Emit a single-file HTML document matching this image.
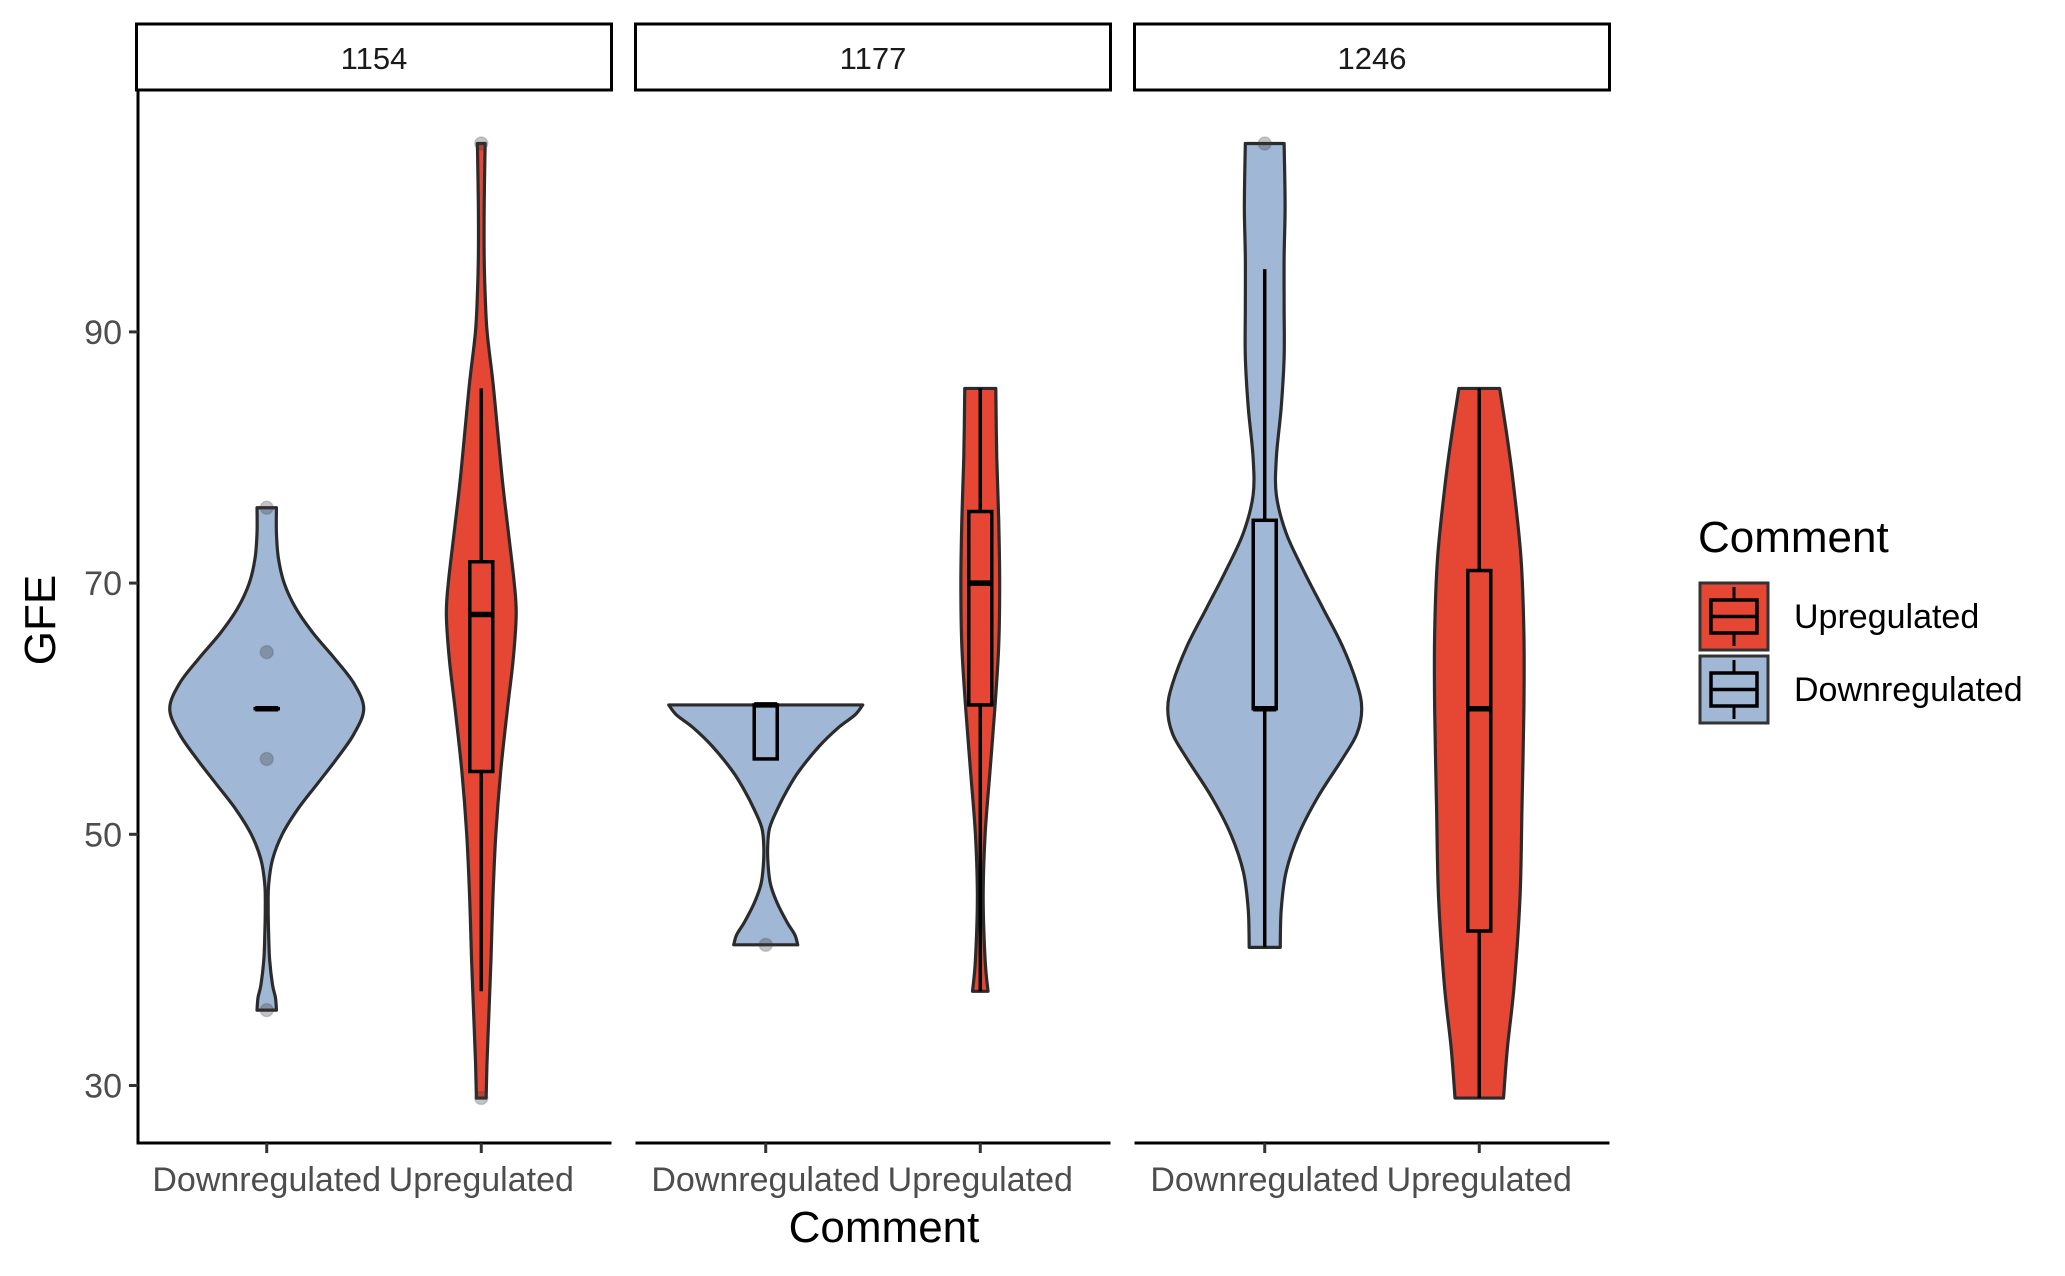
<!DOCTYPE html>
<html><head><meta charset="utf-8"><style>
body{margin:0;background:#fff}
svg{display:block;font-family:"Liberation Sans",Arial,sans-serif}
</style></head><body>
<svg id="chart" width="2065" height="1276" viewBox="0 0 2065 1276"></svg>
<script>
const panels = ["1154","1177","1246"];
const categories = ["Downregulated","Upregulated"];
const yTicks = [30,50,70,90];
// density profiles: [value, relative half width]
const profile1154Down = [[36,0.1],[37,0.09],[38,0.06],[40,0.03],[42,0.02],[44,0.015],[46,0.02],[48,0.06],[50,0.16],[52,0.32],[54,0.52],[56,0.72],[58,0.9],[60,1.0],[62,0.9],[64,0.7],[66,0.48],[68,0.3],[70,0.18],[72,0.12],[74,0.1],[76,0.1]];
const profile1154Up = [[29,0.05],[32,0.06],[36,0.08],[40,0.1],[45,0.12],[50,0.15],[55,0.2],[60,0.27],[64,0.33],[67.5,0.36],[70,0.34],[74,0.28],[78,0.22],[82,0.17],[86,0.12],[90,0.06],[93,0.04],[96,0.03],[100,0.03],[105,0.04]];
const profile1177Down = [[41.2,0.33],[42,0.3],[43,0.22],[44.5,0.12],[46,0.05],[47.5,0.025],[49,0.02],[50.5,0.04],[52,0.12],[53.5,0.22],[55,0.34],[57,0.55],[58.5,0.75],[59.5,0.92],[60.3,1.0]];
const profile1177Up = [[37.5,0.08],[40,0.05],[45,0.03],[50,0.05],[55,0.1],[60,0.15],[65,0.19],[70,0.2],[75,0.19],[80,0.17],[85.5,0.16]];
const profile1246Down = [[41,0.16],[44,0.17],[47,0.22],[50,0.35],[53,0.55],[56,0.8],[58,0.95],[60,1.0],[62,0.95],[65,0.8],[68,0.6],[71,0.4],[74,0.22],[77,0.12],[80,0.12],[84,0.17],[88,0.2],[92,0.2],[96,0.2],[100,0.21],[105,0.2]];
const profile1246Up = [[29,0.25],[33,0.29],[38,0.36],[45,0.42],[52,0.44],[60,0.46],[66,0.46],[72,0.43],[78,0.35],[82,0.28],[85.5,0.21]];
// boxes: [lowWhisker, q1, median, q3, highWhisker]
const box1154Down = [60,60,60,60,60];
const box1154Up = [37.5,55,67.5,71.7,85.5];
const box1177Down = [56,56,60.3,60.3,60.3];
const box1177Up = [37.5,60.3,70,75.7,85.5];
const box1246Down = [41,60,60,75,95];
const box1246Up = [29,42.3,60,71,85.5];
// outlier / jitter points
const points1154Down = [76,64.5,56,36];
const points1154Up = [105,29];
const points1177Down = [41.2];
const points1177Up = [];
const points1246Down = [105];
const points1246Up = [];

const profiles=[[profile1154Down,profile1154Up],[profile1177Down,profile1177Up],[profile1246Down,profile1246Up]];
const boxes=[[box1154Down,box1154Up],[box1177Down,box1177Up],[box1246Down,box1246Up]];
const pts=[[points1154Down,points1154Up],[points1177Down,points1177Up],[points1246Down,points1246Up]];
const fills=["#A1B7D6","#E64734"];

const svg=document.getElementById('chart');
const NS="http://www.w3.org/2000/svg";
function mk(t,a,p){const e=document.createElementNS(NS,t);for(const k in a)e.setAttribute(k,a[k]);(p||svg).appendChild(e);return e;}
const panelLeft=[138,637,1136], panelW=472, plotTop=90, plotBottom=1143;
const y=v=>1085.5-(v-30)*12.56;
const xCat=(p,i)=>panelLeft[p]+(0.6+i)*panelW/2.2;
const HW=97, BOXHW=11.5;

function smooth(ptsArr){let d="";for(let i=0;i<ptsArr.length-1;i++){const p0=ptsArr[Math.max(i-1,0)],p1=ptsArr[i],p2=ptsArr[i+1],p3=ptsArr[Math.min(i+2,ptsArr.length-1)];
const c1=[p1[0]+(p2[0]-p0[0])/6,p1[1]+(p2[1]-p0[1])/6],c2=[p2[0]-(p3[0]-p1[0])/6,p2[1]-(p3[1]-p1[1])/6];
d+=` C${c1[0]},${c1[1]} ${c2[0]},${c2[1]} ${p2[0]},${p2[1]}`;}return d;}

// y axis
const ya=mk('g',{});


mk('line',{x1:138,y1:plotTop,x2:138,y2:plotBottom+1.5,stroke:'#000','stroke-width':3},ya);
yTicks.forEach(t=>{
  const tk=mk('line',{x1:129,x2:138,y1:y(t),y2:y(t),stroke:'#333','stroke-width':3},ya);
  
  
  const tl=mk('text',{x:122,y:y(t)+12,'text-anchor':'end','font-size':34,fill:'#4d4d4d'},ya);
  tl.textContent=t;
  
  
});
const yt=mk('text',{x:0,y:0,transform:'translate(55,620) rotate(-90)','text-anchor':'middle','font-size':44,fill:'#000'});
yt.textContent='GFE';



panels.forEach((name,p)=>{
  const g=mk('g',{});
  
  
  const L=panelLeft[p];
  const strip=mk('rect',{x:L-1.5,y:24,width:panelW+3,height:66,fill:'#fff',stroke:'#000','stroke-width':3},g);
  
  
  const st=mk('text',{x:L+panelW/2,y:69,'text-anchor':'middle','font-size':31,fill:'#1a1a1a'},g);
  st.textContent=name;
  
  
  const xa=mk('line',{x1:L-1.5,x2:L+panelW+1.5,y1:plotBottom,y2:plotBottom,stroke:'#000','stroke-width':3},g);
  
  
  categories.forEach((c,i)=>{
    const cx=xCat(p,i);
    const prof=profiles[p][i];
    const right=prof.map(d=>[cx+d[1]*HW,y(d[0])]);
    const left=prof.map(d=>[cx-d[1]*HW,y(d[0])]).reverse();
    let d=`M${left[left.length-1][0]},${left[left.length-1][1]} L${right[0][0]},${right[0][1]}`+smooth(right)+` L${left[0][0]},${left[0][1]}`+smooth(left)+' Z';
    const v=mk('path',{d:d,fill:fills[i],stroke:'#2b2b2b','stroke-width':3.2,'stroke-linejoin':'round'},g);
    
    
    pts[p][i].forEach(pv=>{
      const c0=mk('circle',{cx:cx,cy:y(pv),r:6.5,fill:'rgba(60,60,60,0.3)',stroke:'rgba(60,60,60,0.2)','stroke-width':1.5},g);
      
      
    });
    const b=boxes[p][i];
    const bg=mk('g',{},g);
    
    
    mk('line',{x1:cx,x2:cx,y1:y(b[0]),y2:y(b[1]),stroke:'#000','stroke-width':3.5},bg);
    mk('line',{x1:cx,x2:cx,y1:y(b[3]),y2:y(b[4]),stroke:'#000','stroke-width':3.5},bg);
    mk('rect',{x:cx-BOXHW,y:y(b[3]),width:2*BOXHW,height:Math.max(y(b[1])-y(b[3]),0.01),fill:fills[i],stroke:'#000','stroke-width':3.5},bg);
    mk('line',{x1:cx-BOXHW,x2:cx+BOXHW,y1:y(b[2]),y2:y(b[2]),stroke:'#000','stroke-width':5.5},bg);
    const tk=mk('line',{x1:cx,x2:cx,y1:plotBottom,y2:plotBottom+10,stroke:'#333','stroke-width':3},g);
    
    
    const tl=mk('text',{x:cx,y:1191,'text-anchor':'middle','font-size':34,fill:'#4d4d4d'},g);
    tl.textContent=c;
    
    
  });
});
const xt=mk('text',{x:884,y:1242,'text-anchor':'middle','font-size':44,fill:'#000'});
xt.textContent='Comment';



// legend
const lg=mk('g',{});


const lt=mk('text',{x:1698,y:552,'font-size':44,fill:'#000'},lg);
lt.textContent='Comment';


const legendLabels=["Upregulated","Downregulated"];
const legendFills=["#E64734","#A1B7D6"];
legendLabels.forEach((lab,i)=>{
  const top=583+i*73;
  const e=mk('g',{},lg);
  
  
  mk('rect',{x:1700,y:top,width:68,height:67,fill:legendFills[i],stroke:'#333','stroke-width':3},e);
  mk('line',{x1:1734,x2:1734,y1:top+4,y2:top+63,stroke:'#000','stroke-width':3},e);
  mk('rect',{x:1711,y:top+17,width:46,height:33,fill:legendFills[i],stroke:'#000','stroke-width':3.5},e);
  mk('line',{x1:1711,x2:1757,y1:top+33.5,y2:top+33.5,stroke:'#000','stroke-width':3.5},e);
  const t=mk('text',{x:1794,y:top+45,'font-size':34,fill:'#000'},e);
  t.textContent=lab;
});
</script>
</body></html>
